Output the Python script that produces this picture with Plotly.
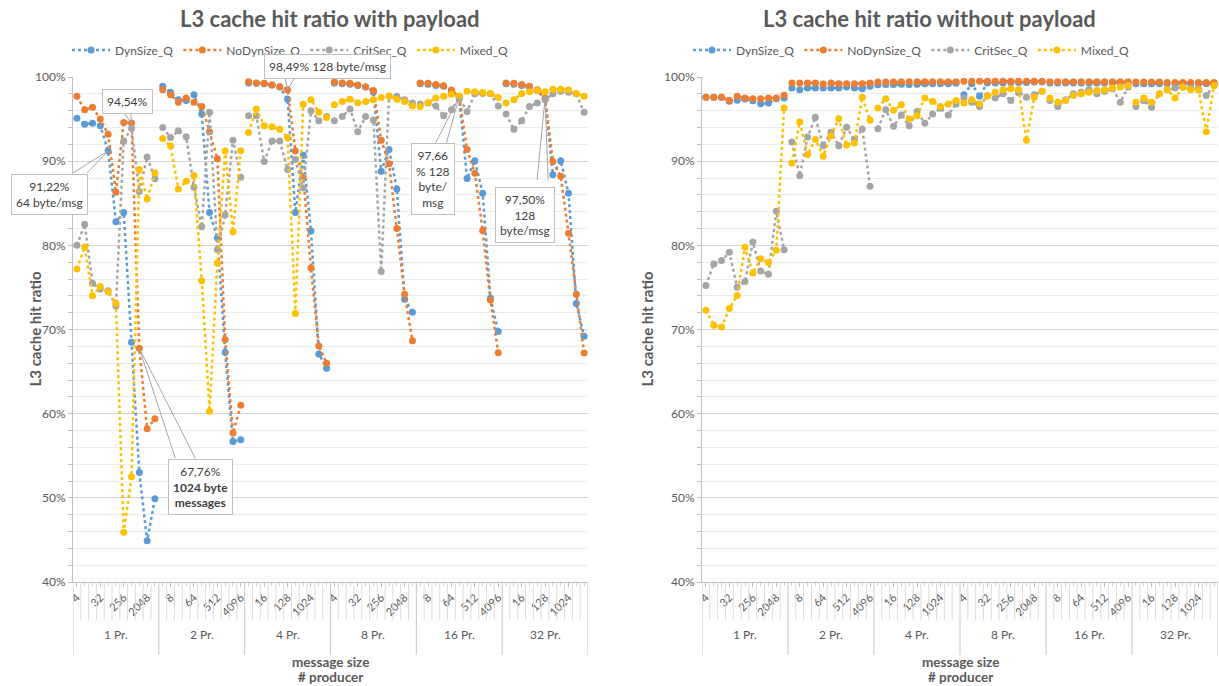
import plotly.graph_objects as go

# ---- categories -------------------------------------------------------------
sizes = [4, 8, 16, 32, 64, 128, 256, 512, 1024, 2048, 4096]
producers = ["1 Pr.", "2 Pr.", "4 Pr.", "8 Pr.", "16 Pr.", "32 Pr."]
series_names = ["DynSize_Q", "NoDynSize_Q", "CritSec_Q", "Mixed_Q"]
series_colors = ["#5B9BD5", "#ED7D31", "#A5A5A5", "#FFC000"]

# ---- L3 hit ratio (%) with payload: one list per producer group ------------
with_dyn = [
    [95.1, 94.4, 94.5, 94.2, 91.22, 82.8, 83.9, 68.5, 53.0, 44.9, 49.9],
    [98.9, 98.2, 97.3, 97.2, 97.9, 95.6, 83.9, 80.9, 67.3, 56.7, 56.9],
    [99.3, 99.25, 99.2, 99.05, 98.8, 97.35, 83.9, 90.7, 81.7, 67.1, 65.4],
    [99.3, 99.2, 99.15, 99.0, 98.8, 98.2, 88.8, 91.4, 86.7, 73.6, 72.05],
    [99.2, 99.15, 99.0, 98.9, 98.3, 97.5, 87.95, 90.05, 86.2, 73.7, 69.75],
    [99.2, 99.15, 99.0, 98.8, 98.4, 97.4, 88.4, 90.05, 86.2, 73.1, 69.2],
]
with_nodyn = [
    [97.7, 96.1, 96.4, 95.0, 93.2, 86.3, 94.6, 94.54, 67.76, 58.2, 59.4],
    [98.5, 97.9, 97.0, 97.5, 97.0, 96.5, 93.5, 90.3, 68.8, 57.7, 61.0],
    [99.45, 99.3, 99.25, 99.05, 98.85, 98.49, 91.2, 88.2, 77.3, 68.05, 66.0],
    [99.45, 99.3, 99.25, 99.05, 98.85, 98.4, 92.5, 89.7, 82.0, 74.2, 68.65],
    [99.3, 99.25, 99.1, 98.97, 98.45, 97.66, 91.4, 88.55, 81.75, 73.5, 67.25],
    [99.3, 99.25, 99.1, 98.9, 98.5, 97.50, 89.95, 88.2, 81.45, 74.2, 67.2],
]
with_crit = [
    [80.0, 82.5, 75.5, 74.8, 74.6, 72.8, 92.4, 93.9, 86.4, 90.5, 87.9],
    [94.0, 92.8, 93.6, 92.9, 86.9, 82.2, 95.8, 79.5, 83.6, 92.5, 88.1],
    [95.4, 95.4, 89.95, 92.4, 92.4, 89.0, 90.2, 86.8, 96.0, 94.8, 95.3],
    [94.8, 95.3, 96.2, 93.5, 95.3, 94.9, 76.9, 97.7, 97.7, 97.3, 96.9],
    [96.8, 96.9, 96.55, 95.4, 96.1, 97.5, 95.9, 98.0, 98.05, 98.0, 96.55],
    [95.6, 93.8, 94.8, 96.5, 96.9, 97.3, 98.0, 98.3, 98.2, 98.0, 95.8],
]
with_mixed = [
    [77.2, 79.8, 74.0, 75.1, 74.5, 73.1, 45.9, 52.5, 89.0, 85.5, 88.6],
    [92.7, 91.8, 86.7, 87.6, 88.3, 75.8, 60.3, 77.9, 91.2, 81.6, 91.25],
    [93.4, 96.2, 94.2, 94.1, 93.8, 92.8, 71.9, 96.75, 97.3, 95.8, 95.2],
    [96.7, 97.1, 97.35, 96.95, 97.1, 97.3, 97.55, 97.75, 97.35, 97.1, 96.55],
    [96.5, 96.95, 97.5, 97.7, 97.95, 97.75, 98.3, 98.25, 98.15, 98.05, 97.55],
    [96.9, 97.3, 98.05, 98.25, 98.4, 98.25, 98.55, 98.55, 98.45, 98.05, 97.7],
]

# ---- L3 hit ratio (%) without payload ---------------------------------------
without_dyn = [
    [97.59, 97.59, 97.59, 97.11, 97.23, 97.39, 97.19, 96.83, 96.91, 97.43, 97.51],
    [98.69, 98.5, 98.69, 98.69, 98.69, 98.69, 98.69, 98.81, 98.69, 98.61, 98.89],
    [99.09, 99.1, 99.1, 99.15, 99.1, 99.15, 99.2, 99.2, 99.2, 99.2, 99.25],
    [97.9, 99.2, 97.7, 99.3, 99.3, 99.3, 99.35, 99.35, 99.35, 99.4, 99.4],
    [99.3, 99.3, 99.3, 99.3, 99.3, 99.3, 99.3, 99.3, 99.3, 99.3, 99.3],
    [99.2, 99.2, 99.2, 99.2, 99.2, 99.2, 99.2, 99.2, 99.2, 99.2, 99.2],
]
without_nodyn = [
    [97.59, 97.59, 97.59, 97.23, 97.70, 97.51, 97.43, 97.43, 97.51, 97.51, 97.82],
    [99.29, 99.29, 99.29, 99.29, 99.17, 99.29, 99.21, 99.21, 99.21, 99.21, 99.29],
    [99.4, 99.4, 99.4, 99.45, 99.45, 99.45, 99.45, 99.45, 99.45, 99.45, 99.45],
    [99.5, 99.5, 99.5, 99.5, 99.5, 99.5, 99.5, 99.5, 99.5, 99.5, 99.5],
    [99.45, 99.45, 99.45, 99.45, 99.45, 99.45, 99.45, 99.45, 99.45, 99.45, 99.45],
    [99.4, 99.4, 99.4, 99.4, 99.35, 99.35, 99.35, 99.35, 99.35, 99.35, 99.35],
]
without_crit = [
    [75.22, 77.79, 78.19, 79.18, 75.02, 75.69, 80.4, 76.96, 76.56, 84.05, 79.49],
    [92.28, 88.28, 92.87, 95.21, 91.84, 93.43, 91.84, 94.02, 92.56, 93.82, 87.01],
    [93.86, 96.12, 94.14, 95.5, 94.2, 95.9, 94.5, 95.6, 96.3, 95.5, 96.8],
    [97.5, 97.0, 96.5, 97.8, 97.5, 98.0, 97.2, 98.2, 97.6, 97.9, 98.3],
    [97.2, 96.5, 97.3, 98.0, 98.2, 98.5, 98.0, 98.3, 98.6, 97.0, 98.8],
    [96.5, 97.2, 96.4, 98.0, 98.5, 98.7, 98.8, 98.7, 98.6, 97.8, 99.0],
]
without_mixed = [
    [72.29, 70.51, 70.31, 72.49, 74.03, 79.77, 76.72, 78.42, 77.95, 79.41, 96.32],
    [89.79, 94.66, 90.78, 92.56, 90.58, 93.03, 95.05, 91.92, 92.16, 97.59, 94.85],
    [96.32, 97.43, 96.04, 96.7, 95.0, 95.4, 97.5, 97.1, 96.5, 96.8, 97.2],
    [96.9, 97.3, 96.8, 97.7, 98.2, 98.5, 98.6, 98.5, 92.5, 97.6, 98.3],
    [97.5, 97.0, 97.2, 97.8, 98.0, 98.2, 98.4, 98.5, 98.7, 98.8, 99.0],
    [97.0, 97.5, 97.0, 98.0, 98.5, 97.5, 98.8, 98.5, 98.5, 93.5, 99.0],
]

n_size = len(sizes)
n_cat = n_size * len(producers)
GREY_TXT = "#595959"
FONT = "Lato, 'Open Sans', sans-serif"


def flatten(groups):
    """Category positions and values; a None between producer groups breaks the line."""
    xs, ys = [], []
    for g, vals in enumerate(groups):
        for k, v in enumerate(vals):
            xs.append(g * n_size + k)
            ys.append(v)
        xs.append(None)
        ys.append(None)
    return xs, ys


fig = go.Figure()

panels = [
    ("x", "y", "legend", [with_dyn, with_nodyn, with_crit, with_mixed]),
    ("x2", "y2", "legend2", [without_dyn, without_nodyn, without_crit, without_mixed]),
]
for xa, ya, leg, data in panels:
    for name, color, groups in zip(series_names, series_colors, data):
        xs, ys = flatten(groups)
        fig.add_trace(go.Scatter(
            x=xs, y=ys, name=name, mode="lines+markers",
            xaxis=xa, yaxis=ya, legend=leg,
            line=dict(color=color, width=2.5, dash="dot"),
            marker=dict(color=color, size=7),
            connectgaps=False,
            hovertemplate="%{y:.2f}%<extra>" + name + "</extra>",
        ))

# ---- axes -------------------------------------------------------------------
W, H = 1219, 686
y_dom = [1 - 582 / H, 1 - 77 / H]
x_doms = [[73 / W, 588 / W], [702 / W, 1218 / W]]
y_title_x = [34, 646]

tick_idx = list(range(0, n_cat, 3))
tick_txt = [str(sizes[i % n_size]) for i in tick_idx]

for j, dom in enumerate(x_doms):
    sfx = "" if j == 0 else str(j + 1)
    fig.layout["xaxis" + sfx] = dict(
        domain=dom, range=[-0.5, n_cat - 0.5], anchor="y" + sfx, automargin=False,
        tickmode="array", tickvals=tick_idx, ticktext=tick_txt,
        tickangle=-45, tickfont=dict(size=11, color=GREY_TXT, family=FONT),
        showgrid=False, zeroline=False, showline=True, linecolor="#bfbfbf",
        ticks="outside", ticklen=4, tickcolor="#bfbfbf",
        minor=dict(dtick=1, tick0=0, ticks="outside", ticklen=3, tickcolor="#d0d0d0"),
    )
    fig.layout["yaxis" + sfx] = dict(
        domain=y_dom, range=[40, 100], anchor="x" + sfx, automargin=False,
        dtick=10, ticksuffix="%", tickfont=dict(size=12, color=GREY_TXT, family=FONT),
        showgrid=True, gridcolor="#d4d4d4", gridwidth=1,
        minor=dict(dtick=2, showgrid=True, gridcolor="#ececec",
                   ticks="outside", ticklen=4, tickcolor="#bfbfbf"),
        zeroline=False, showline=True, linecolor="#bfbfbf",
        ticks="outside", ticklen=4, tickcolor="#bfbfbf",
    )
    # vertical value-axis title
    fig.add_annotation(text="<b>L3 cache hit ratio</b>", xref="paper", yref="paper",
                       x=y_title_x[j] / W, y=(y_dom[0] + y_dom[1]) / 2, textangle=-90,
                       showarrow=False, xanchor="center", yanchor="middle",
                       font=dict(size=15, color=GREY_TXT, family=FONT))

    xref = "x" + sfx
    # separators below the category axis
    for b in range(n_cat + 1):
        is_group = b % n_size == 0
        fig.add_shape(type="line", xref=xref, yref="paper",
                      x0=b - 0.5, x1=b - 0.5, y0=y_dom[0],
                      y1=1 - (655 if is_group else 620) / H,
                      line=dict(color="#c8c8c8" if is_group else "#dcdcdc", width=1))
    # producer group labels
    for g, p in enumerate(producers):
        fig.add_annotation(text=p, xref=xref, yref="paper", x=g * n_size + (n_size - 1) / 2,
                           y=1 - 634 / H, showarrow=False, xanchor="center", yanchor="middle",
                           font=dict(size=12, color=GREY_TXT, family=FONT))
    mid = (dom[0] + dom[1]) / 2
    fig.add_annotation(text="<b>message size</b>", xref="paper", yref="paper", x=mid,
                       y=1 - 662 / H, showarrow=False, xanchor="center", yanchor="middle",
                       font=dict(size=13.5, color=GREY_TXT, family=FONT))
    fig.add_annotation(text="<b># producer</b>", xref="paper", yref="paper", x=mid,
                       y=1 - 677 / H, showarrow=False, xanchor="center", yanchor="middle",
                       font=dict(size=13.5, color=GREY_TXT, family=FONT))

# chart titles
for txt, cx in [("<b>L3 cache hit ratio with payload</b>", 330),
                ("<b>L3 cache hit ratio without payload</b>", 929)]:
    fig.add_annotation(text=txt, xref="paper", yref="paper", x=cx / W, y=1 - 18 / H,
                       showarrow=False, xanchor="center", yanchor="middle",
                       font=dict(size=22, color=GREY_TXT, family=FONT))

# ---- callouts on the payload chart -------------------------------------------
def callout(g, k, groups, text, ax, ay, wedge):
    """Label box offset (ax, ay) from a point, tied to it by a two-line wedge."""
    px, py = g * n_size + k, groups[g][k]
    for dx, dy in wedge:
        fig.add_shape(type="line", xref="x", yref="y",
                      xsizemode="pixel", ysizemode="pixel", xanchor=px, yanchor=py,
                      x0=0, y0=0, x1=dx, y1=dy,
                      line=dict(color="#a6a6a6", width=1))
    fig.add_annotation(
        x=px, y=py, xref="x", yref="y", text=text,
        showarrow=True, arrowhead=0, arrowwidth=1, arrowcolor="rgba(0,0,0,0)",
        ax=ax, ay=ay, bgcolor="white", bordercolor="#bfbfbf", borderwidth=1, borderpad=4,
        font=dict(size=12, color="#404040", family=FONT), align="center",
    )

callout(0, 7, with_nodyn, "94,54%", -4, -21, [(-9, 12), (-1, 12)])
callout(0, 4, with_dyn, "91,22%<br>64 byte/msg", -59, 44, [(-35, -22), (-21, -22)])
callout(0, 8, with_nodyn, "67,76%<br><b>1024 byte<br>messages</b>", 61, 139,
        [(36, -110), (56, -110)])
callout(2, 5, with_nodyn, "98,49% 128 byte/msg", 40, -23, [(-3, 15), (9, 15)])
callout(4, 5, with_nodyn, "97,66<br>% 128<br>byte/<br>msg", -26, 82, [(-24, -47), (-13, -47)])
callout(5, 5, with_nodyn, "97,50%<br>128<br>byte/msg", -20, 117, [(-8, -82), (3, -82)])

legend_style = dict(orientation="h", yanchor="middle", xanchor="left", itemwidth=38,
                    font=dict(size=12, color=GREY_TXT, family=FONT),
                    bgcolor="rgba(0,0,0,0)")
fig.update_layout(
    width=W, height=H, autosize=False,
    margin=dict(l=0, r=0, t=0, b=0),
    paper_bgcolor="white", plot_bgcolor="white",
    font=dict(family=FONT, color=GREY_TXT),
    legend=dict(x=67 / W, y=1 - 50 / H, **legend_style),
    legend2=dict(x=688 / W, y=1 - 50 / H, **legend_style),
)

fig.write_html("out.html")
